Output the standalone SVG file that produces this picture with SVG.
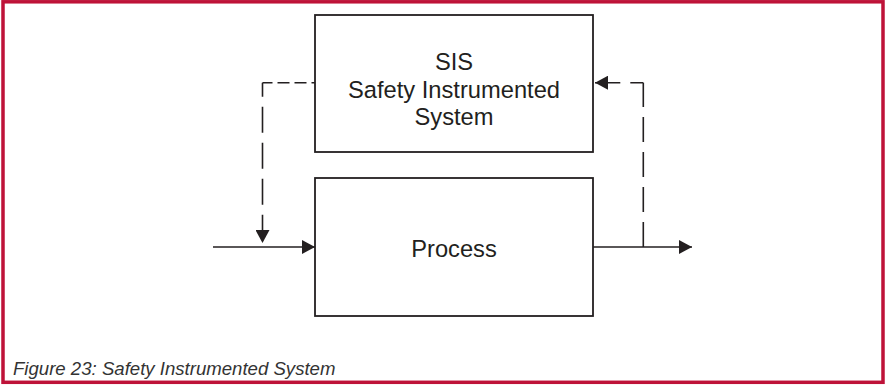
<svg xmlns="http://www.w3.org/2000/svg" width="886" height="386" viewBox="0 0 886 386">
<style>
.box{fill:#fff;stroke:#231f20;stroke-width:1.8}
.lbl{font-family:"Liberation Sans",Arial,sans-serif;font-size:23.7px;fill:#231f20;text-anchor:middle}
.ln{fill:none;stroke:#231f20;stroke-width:1.6}
.dh{fill:none;stroke:#231f20;stroke-width:1.6;stroke-dasharray:12 5;stroke-dashoffset:2}
.dh2{fill:none;stroke:#231f20;stroke-width:1.6;stroke-dasharray:13 10}
.dv{fill:none;stroke:#231f20;stroke-width:1.6;stroke-dasharray:26 10;stroke-dashoffset:12}
.dv2{fill:none;stroke:#231f20;stroke-width:1.6;stroke-dasharray:25 10}
.cap{font-family:"Liberation Sans",Arial,sans-serif;font-size:18.6px;font-style:italic;fill:#333}
</style>
<defs>
<marker id="ah" viewBox="0 0 13 14" refX="13" refY="7" markerWidth="13" markerHeight="14" markerUnits="userSpaceOnUse" orient="auto">
<path d="M0,0 L13,7 L0,14 Z" fill="#231f20"/>
</marker>
</defs>
<rect x="3" y="1.8" width="880" height="380.5" fill="#fff" stroke="#be1238" stroke-width="3.5"/>
<g id="sis">
<rect class="box" x="315" y="15" width="278" height="137"/>
<text class="lbl" x="454" y="70">SIS</text>
<text class="lbl" x="454" y="97.5">Safety Instrumented</text>
<text class="lbl" x="454" y="125">System</text>
</g>
<g id="process">
<rect class="box" x="315" y="178" width="278" height="138"/>
<text class="lbl" x="454" y="256.5">Process</text>
</g>
<g id="connectors">
<path class="ln" d="M213,247 L315,247" marker-end="url(#ah)"/>
<path class="ln" d="M593,247 L692,247" marker-end="url(#ah)"/>
<path class="dh" d="M262.5,82.7 L315,82.7"/>
<path class="dv" d="M262.5,82.7 L262.5,243" marker-end="url(#ah)"/>
<path class="dv2" d="M643.3,247 L643.3,82.7"/>
<path class="dh2" d="M643.3,82.7 L595,82.7" marker-end="url(#ah)"/>
</g>
<text class="cap" x="13" y="375">Figure 23: Safety Instrumented System</text>
</svg>
